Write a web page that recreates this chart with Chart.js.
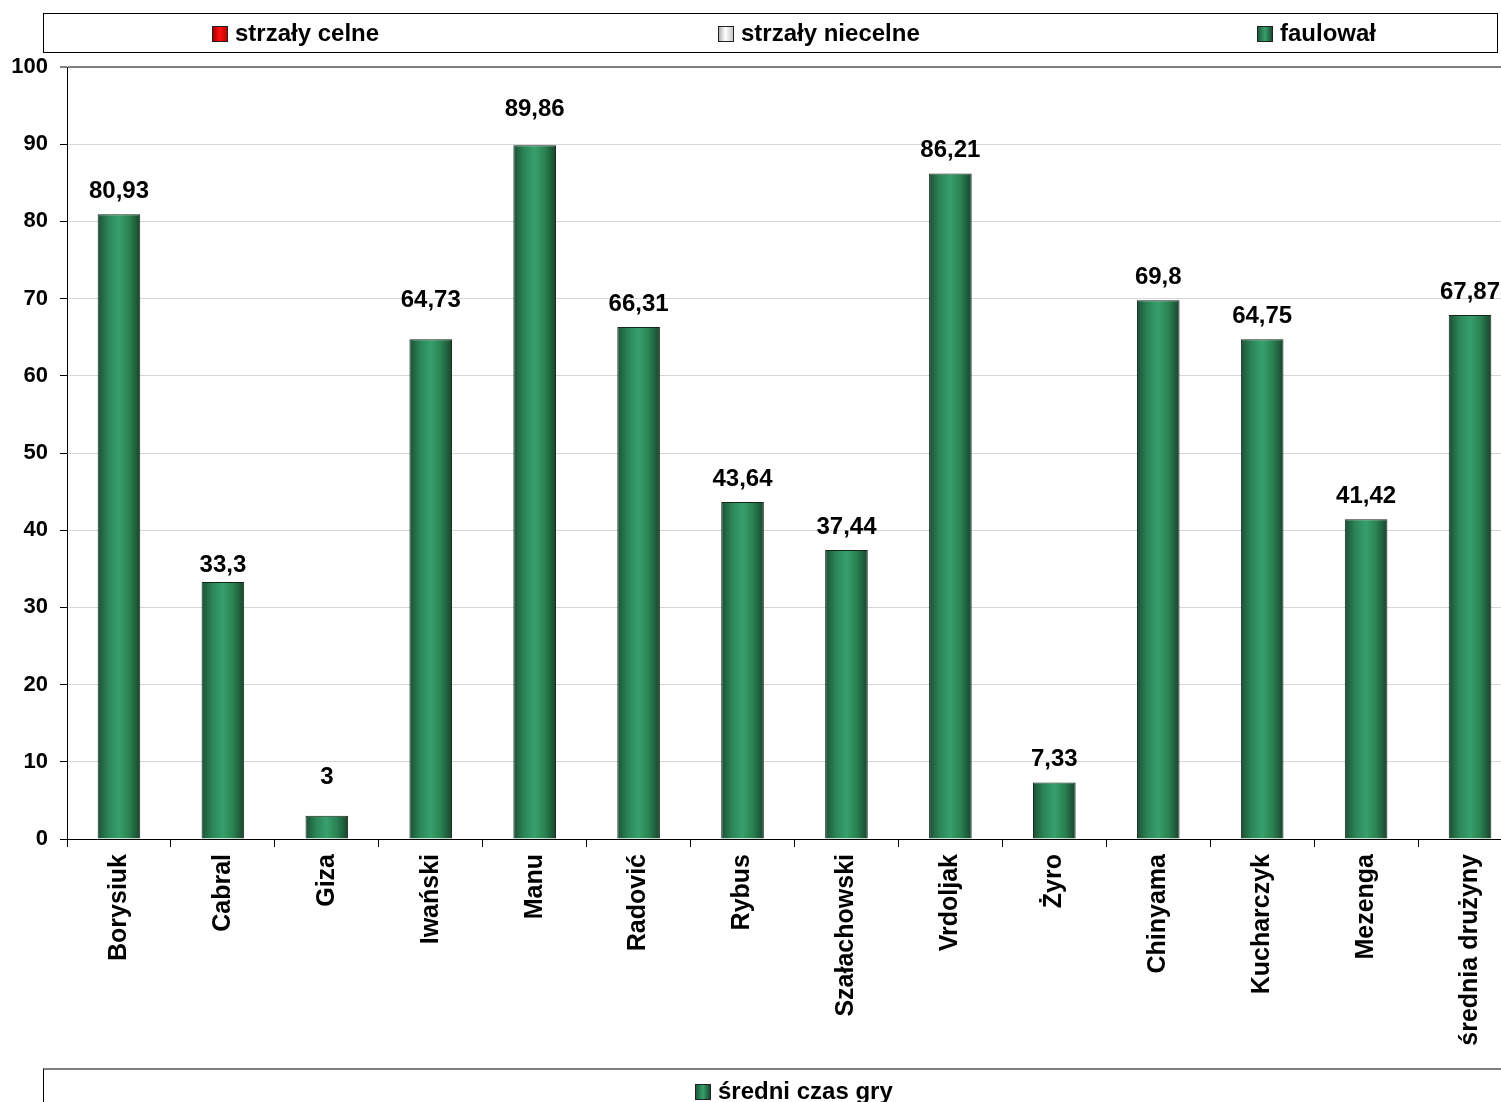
<!DOCTYPE html>
<html lang="pl">
<head>
<meta charset="utf-8">
<title>średni czas gry</title>
<script src="https://cdn.jsdelivr.net/npm/chart.js@4.4.1/dist/chart.umd.min.js"></script>
<style>
    body {
        margin: 0;
        width: 1501px;
        height: 1102px;
        overflow: hidden;
        background: #fff;
        font-family: "Liberation Sans", Arial, sans-serif;
        font-weight: bold;
    }
    #chart {
        position: absolute;
        left: 0;
        top: 0;
    }
    .legend-box {
        position: absolute;
        box-sizing: border-box;
    }
    .legend-top {
        left: 43px;
        top: 13px;
        width: 1455px;
        height: 40px;
        border: 1px solid #000;
    }
    .legend-bottom {
        left: 43px;
        top: 1068px;
        width: 1500px;
        height: 60px;
        border-left: 1px solid #000;
        border-top: 2px solid #808080;
    }
    .item {
        position: absolute;
        font-size: 24px;
        line-height: 24px;
        white-space: nowrap;
        color: #000;
    }
    .swatch {
        display: inline-block;
        width: 14px;
        height: 14px;
        border: 1px solid #222;
        margin-right: 7px;
        vertical-align: -1px;
    }
    .red { background: linear-gradient(90deg, #a00000, #ff1010 45%, #c00000); }
    .white { background: linear-gradient(90deg, #b0b0b0, #ffffff 45%, #c8c8c8); }
    .green { background: linear-gradient(90deg, #1f5a3d, #36a06b 50%, #1a4a31); }
</style>
</head>
<body>
<canvas id="chart" width="1530" height="1102"></canvas>

<div class="legend-box legend-top">
    <div class="item" style="left:168px; top:7px;"><span class="swatch red"></span>strzały celne</div>
    <div class="item" style="left:674px; top:7px;"><span class="swatch white"></span>strzały niecelne</div>
    <div class="item" style="left:1213px; top:7px;"><span class="swatch green"></span>faulował</div>
</div>
<div class="legend-box legend-bottom">
    <div class="item" style="left:651px; top:9px;"><span class="swatch green"></span>średni czas gry</div>
</div>

<script>
// Data
const players = ['Borysiuk', 'Cabral', 'Giza', 'Iwański', 'Manu', 'Radović', 'Rybus',
    'Szałachowski', 'Vrdoljak', 'Żyro', 'Chinyama', 'Kucharczyk', 'Mezenga', 'średnia drużyny'];
const avgPlayTime = [80.93, 33.3, 3, 64.73, 89.86, 66.31, 43.64, 37.44, 86.21, 7.33, 69.8, 64.75, 41.42, 67.87];
const yTicks = [0, 10, 20, 30, 40, 50, 60, 70, 80, 90, 100];

const BAR_PCT = 0.41;

// horizontal "cylinder" gradient for each bar
function barGradient(context) {
    const chart = context.chart;
    const xScale = chart.scales.x;
    if (!xScale || context.type !== 'data') return '#2e8b5c';
    const cx = xScale.getPixelForValue(context.dataIndex);
    const w = (xScale.width / players.length) * BAR_PCT;
    if (!isFinite(cx) || !isFinite(w) || w <= 0) return '#2e8b5c';
    const g = chart.ctx.createLinearGradient(cx - w / 2, 0, cx + w / 2, 0);
    g.addColorStop(0, '#1c5034');
    g.addColorStop(0.25, '#2c8558');
    g.addColorStop(0.5, '#37a06c');
    g.addColorStop(0.75, '#2a8050');
    g.addColorStop(1, '#18442c');
    return g;
}

// value labels above bars, with decimal comma
const valueLabels = {
    id: 'valueLabels',
    afterDatasetsDraw(chart, args, opts) {
        const ctx = chart.ctx;
        const meta = chart.getDatasetMeta(0);
        ctx.save();
        ctx.font = 'bold 24px "Liberation Sans", Arial, sans-serif';
        ctx.fillStyle = '#000';
        ctx.textAlign = 'center';
        ctx.textBaseline = 'middle';
        meta.data.forEach((bar, i) => {
            const txt = String(avgPlayTime[i]).replace('.', ',');
            const lift = 23 + (opts.nudge[i] || 0);
            ctx.fillText(txt, bar.x, bar.y - lift);
        });
        ctx.restore();
    }
};

window.addEventListener('DOMContentLoaded', () => {
    const ctx = document.getElementById('chart').getContext('2d');
    const chart = new Chart(ctx, {
        type: 'bar',
        data: {
            labels: players,
            datasets: [{
                label: 'średni czas gry',
                data: avgPlayTime,
                backgroundColor: barGradient,
                borderColor: '#14241a',
                borderWidth: 1,
                barPercentage: BAR_PCT,
                categoryPercentage: 1
            }]
        },
        options: {
            responsive: false,
            animation: false,
            devicePixelRatio: 1,
            layout: { padding: { top: 67, right: 8, bottom: 0, left: 0 } },
            plugins: {
                legend: { display: false },
                tooltip: { enabled: false },
                valueLabels: { nudge: { 1: -6, 2: 15, 3: 16, 4: 13 } }
            },
            scales: {
                x: {
                    grid: {
                        offset: true,
                        drawOnChartArea: false,
                        tickLength: 8,
                        tickColor: '#000'
                    },
                    border: { color: '#000', width: 1 },
                    ticks: {
                        autoSkip: false,
                        maxRotation: 90,
                        minRotation: 90,
                        padding: 7,
                        color: '#000',
                        font: { family: '"Liberation Sans", Arial, sans-serif', size: 25, weight: 'bold' }
                    },
                    afterFit(scale) { scale.height = 263; }
                },
                y: {
                    min: 0,
                    max: 100,
                    afterBuildTicks(scale) { scale.ticks = yTicks.map(v => ({ value: v })); },
                    grid: {
                        color: c => c.tick && c.tick.value === 100 ? '#808080' : '#d6d6d6',
                        lineWidth: c => c.tick && c.tick.value === 100 ? 2 : 1,
                        tickColor: c => c.tick && c.tick.value === 100 ? '#808080' : '#000',
                        tickLength: 7
                    },
                    border: { color: '#000', width: 1 },
                    ticks: {
                        padding: 12,
                        color: '#000',
                        font: { family: '"Liberation Sans", Arial, sans-serif', size: 22, weight: 'bold' }
                    },
                    afterFit(scale) { scale.width = 67; }
                }
            }
        },
        plugins: [valueLabels]
    });
    // second pass so the gradients see the laid-out scale
    chart.update();
});
</script>
</body>
</html>
